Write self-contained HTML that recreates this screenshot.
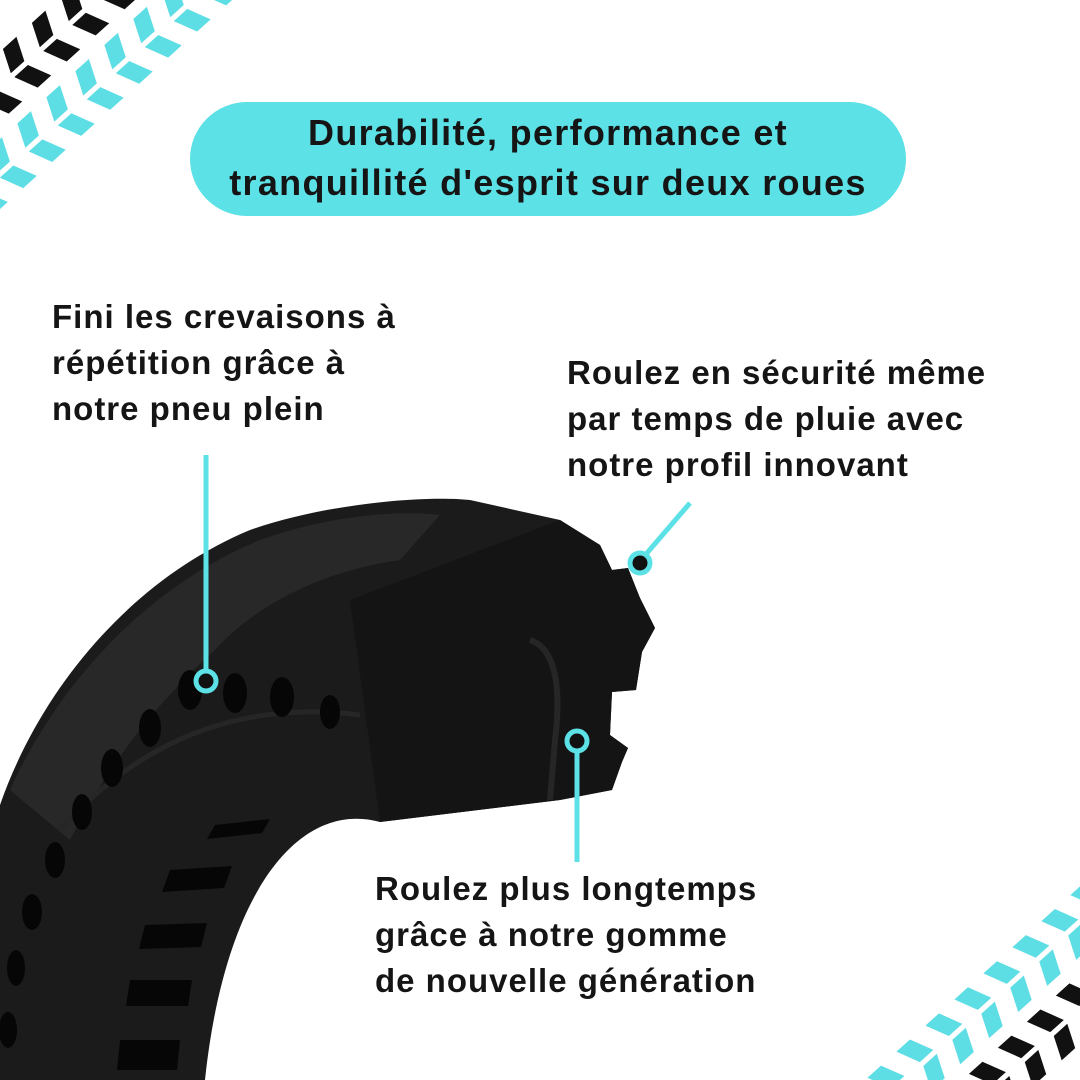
<!DOCTYPE html>
<html><head><meta charset="utf-8"><style>
html,body{margin:0;padding:0;background:#fff;overflow:hidden;width:1080px;height:1080px}
#c{position:relative;width:1080px;height:1080px;overflow:hidden;font-family:"Liberation Sans",sans-serif;font-weight:bold;color:#151515}
.t{position:absolute;font-size:33px;line-height:46px;white-space:nowrap;letter-spacing:1px}
</style></head><body><div id="c">
<svg width="1080" height="1080" style="position:absolute;left:0;top:0">
<defs>
  <g id="rowA">
   <path d="M0,0 l14,0 l8,18 l-14,0z"/><path d="M30,0 l14,0 l8,18 l-14,0z"/><path d="M60,0 l14,0 l8,18 l-14,0z"/><path d="M90,0 l14,0 l8,18 l-14,0z"/><path d="M120,0 l14,0 l8,18 l-14,0z"/><path d="M150,0 l14,0 l8,18 l-14,0z"/><path d="M180,0 l14,0 l8,18 l-14,0z"/><path d="M210,0 l14,0 l8,18 l-14,0z"/><path d="M240,0 l14,0 l8,18 l-14,0z"/><path d="M270,0 l14,0 l8,18 l-14,0z"/>
  </g>
  <g id="rowB">
   <path d="M8,0 l14,0 l-8,18 l-14,0z"/><path d="M38,0 l14,0 l-8,18 l-14,0z"/><path d="M68,0 l14,0 l-8,18 l-14,0z"/><path d="M98,0 l14,0 l-8,18 l-14,0z"/><path d="M128,0 l14,0 l-8,18 l-14,0z"/><path d="M158,0 l14,0 l-8,18 l-14,0z"/><path d="M188,0 l14,0 l-8,18 l-14,0z"/><path d="M218,0 l14,0 l-8,18 l-14,0z"/><path d="M248,0 l14,0 l-8,18 l-14,0z"/><path d="M278,0 l14,0 l-8,18 l-14,0z"/>
  </g>
</defs>
<g transform="translate(-10,225) rotate(-42) scale(1.3)">
  <use href="#rowA" y="-22" fill="#5ddde4"/>
  <use href="#rowB" y="-44" fill="#5ddde4"/>
  <use href="#rowA" y="-72" fill="#111"/>
  <use href="#rowB" y="-94" fill="#111"/>
</g>
<g transform="translate(835,1100) rotate(-42) scale(1.3)">
  <use href="#rowA" y="4" fill="#5ddde4"/>
  <use href="#rowB" y="26" fill="#5ddde4"/>
  <use href="#rowA" y="54" fill="#111"/>
  <use href="#rowB" y="76" fill="#111"/>
</g>
<rect x="190" y="102" width="716" height="114" rx="57" fill="#5ce1e6"/>
<path d="M0,805 C40,690 130,580 250,530 C320,505 420,495 470,500 L560,520 L600,545 L612,570 L628,568 L640,598 L655,628 L642,652 L636,690 L612,692 L610,735 L628,748 L622,762 L612,790 L560,800 L380,822 C300,800 225,890 205,1080 L0,1080 Z" fill="#1b1b1b"/>
<path d="M10,790 C60,680 150,585 260,540 C330,515 400,510 440,515 L400,560 C330,570 260,600 215,650 C160,700 110,760 70,840 Z" fill="#282828"/>
<path d="M350,600 L560,520 L600,545 L612,570 L628,568 L640,598 L655,628 L642,652 L636,690 L612,692 L610,735 L628,748 L622,762 L612,790 L560,800 L380,822 Z" fill="#141414"/>
<path d="M530,640 C560,650 560,700 555,740 L550,800" stroke="#262626" stroke-width="6" fill="none"/>
<path d="M60,830 C140,740 240,700 360,715" stroke="#262626" stroke-width="5" fill="none"/>
<g fill="#060606">
<ellipse cx="190" cy="690" rx="12" ry="20"/><ellipse cx="235" cy="693" rx="12" ry="20"/><ellipse cx="282" cy="697" rx="12" ry="20"/><ellipse cx="150" cy="728" rx="11" ry="19"/><ellipse cx="112" cy="768" rx="11" ry="19"/><ellipse cx="82" cy="812" rx="10" ry="18"/><ellipse cx="55" cy="860" rx="10" ry="18"/><ellipse cx="32" cy="912" rx="10" ry="18"/><ellipse cx="16" cy="968" rx="9" ry="18"/><ellipse cx="8" cy="1030" rx="9" ry="18"/><ellipse cx="330" cy="712" rx="10" ry="17"/>
<path d="M215,825 l55,-6 l-8,14 l-55,6z"/><path d="M170,870 l62,-4 l-8,22 l-62,4z"/><path d="M145,925 l62,-2 l-6,24 l-62,2z"/><path d="M130,980 l62,0 l-4,26 l-62,0z"/><path d="M120,1040 l60,0 l-3,30 l-60,0z"/>
</g>
<g stroke="#5ce1e6" stroke-width="5" fill="#111">
<line x1="206" y1="455" x2="206" y2="670"/>
<circle cx="206" cy="681" r="10"/>
<line x1="690" y1="503" x2="647" y2="553"/>
<circle cx="640" cy="563" r="10"/>
<line x1="577" y1="752" x2="577" y2="862"/>
<circle cx="577" cy="741" r="10"/>
</g>
</svg>
<div class="t" style="left:170px;width:756px;top:108px;text-align:center;font-size:36px;line-height:50px;letter-spacing:1.3px">Durabilité, performance et<br>tranquillité d'esprit sur deux roues</div>
<div class="t" style="left:52px;top:294px">Fini les crevaisons à<br>répétition grâce à<br>notre pneu plein</div>
<div class="t" style="left:567px;top:350px">Roulez en sécurité même<br>par temps de pluie avec<br>notre profil innovant</div>
<div class="t" style="left:375px;top:866px">Roulez plus longtemps<br>grâce à notre gomme<br>de nouvelle génération</div>
</div></body></html>
